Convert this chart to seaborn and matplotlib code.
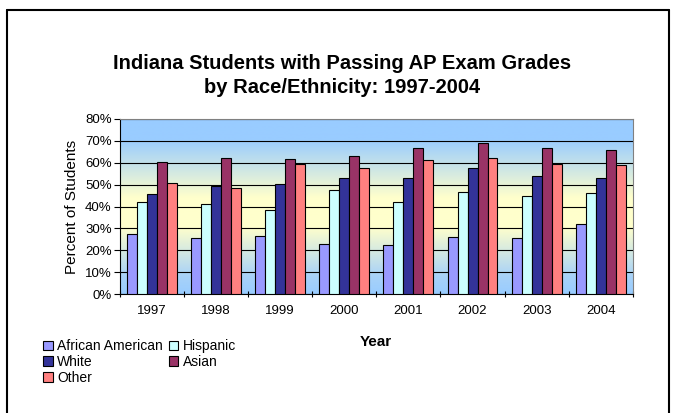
import numpy as np
import pandas as pd
import matplotlib
matplotlib.use("Agg")
import matplotlib.pyplot as plt
import seaborn as sns
from matplotlib.colors import LinearSegmentedColormap
from matplotlib.patches import Patch
from matplotlib.lines import Line2D

# data (percent)
years = ["1997", "1998", "1999", "2000", "2001", "2002", "2003", "2004"]
african_american = [27.6, 25.5, 26.5, 23.0, 22.6, 25.9, 25.5, 32.2]
hispanic = [42.1, 41.0, 38.3, 47.4, 42.1, 46.6, 45.0, 46.2]
white = [45.6, 49.5, 50.3, 53.0, 53.0, 57.6, 53.8, 53.0]
asian = [60.5, 62.3, 61.7, 63.0, 66.8, 68.8, 66.8, 65.9]
other = [50.9, 48.3, 59.5, 57.8, 61.1, 62.3, 59.6, 59.0]

groups = ["African American", "Hispanic", "White", "Asian", "Other"]
colors = ["#9999FF", "#CCFFFF", "#333399", "#993366", "#FF8080"]

df = pd.DataFrame({"Year": years, "African American": african_american,
                   "Hispanic": hispanic, "White": white, "Asian": asian,
                   "Other": other})
long_df = df.melt(id_vars="Year", var_name="Group", value_name="Percent")

sns.set_style("white")
plt.rcParams["font.family"] = ["Liberation Sans", "DejaVu Sans"]
plt.rcParams["text.color"] = "black"
plt.rcParams["axes.labelcolor"] = "black"
plt.rcParams["xtick.color"] = "black"
plt.rcParams["ytick.color"] = "black"

fig = plt.figure(figsize=(6.76, 4.13), dpi=100)
ax = fig.add_axes([0.1775, 0.288, 0.7585, 0.424])

# gradient background: blue - pale yellow - blue (bottom to top)
grad = LinearSegmentedColormap.from_list(
    "bg", [(0, "#99CCFF"), (0.1, "#A8D2F8"), (0.38, "#FFFFCC"), (0.55, "#FFFFCC"),
           (0.88, "#99CCFF"), (1, "#99CCFF")])
ax.imshow(np.linspace(0, 1, 256).reshape(-1, 1), cmap=grad, aspect="auto",
          origin="lower", extent=[0, 1, 0, 1], transform=ax.transAxes, zorder=0)

sns.barplot(data=long_df, x="Year", y="Percent", hue="Group",
            hue_order=groups, palette=colors, width=0.78, saturation=1,
            edgecolor="black", linewidth=0.8, ax=ax, zorder=3)
ax.get_legend().remove()

ax.set_ylim(0, 80)
ax.set_xlim(-0.5, len(years) - 0.5)
ax.set_yticks(np.arange(0, 81, 10))
ax.set_yticklabels([f"{v}%" for v in range(0, 81, 10)], fontsize=9.5)
ax.yaxis.grid(True, color="black", linewidth=0.8, zorder=1)
ax.set_axisbelow(True)
ax.tick_params(axis="x", length=0, labelsize=9.5, pad=8)
ax.tick_params(axis="y", left=True, length=4, width=0.8, color="black", pad=2)
ax.set_xticks(np.arange(-0.5, len(years), 1), minor=True)
ax.tick_params(axis="x", which="minor", bottom=True, length=4, width=0.8,
               color="black", direction="inout")

for side in ["top", "right"]:
    ax.spines[side].set_color("#808080")
    ax.spines[side].set_linewidth(0.8)
for side in ["left", "bottom"]:
    ax.spines[side].set_color("black")
    ax.spines[side].set_linewidth(0.8)

ax.set_xlabel("")
ax.set_ylabel("Percent of Students", fontsize=11, labelpad=4)

fig.text(0.5065, 0.818, "Indiana Students with Passing AP Exam Grades\nby Race/Ethnicity: 1997-2004",
         ha="center", va="center", fontsize=14.5, fontweight="bold", linespacing=1.35)
fig.text(0.556, 0.172, "Year", ha="center", va="center", fontsize=11,
         fontweight="bold")

# legend, filled row by row
handles = [Patch(facecolor=c, edgecolor="black", linewidth=0.8) for c in colors]
order = [0, 2, 4, 1, 3]
ax.legend([handles[i] for i in order], [groups[i] for i in order],
          ncol=2, loc="upper left", bbox_to_anchor=(0.054, 0.195),
          bbox_transform=fig.transFigure, frameon=False, fontsize=10,
          handlelength=0.7, handleheight=0.7, handletextpad=0.3,
          columnspacing=0.4, labelspacing=0.13, borderpad=0)

# outer frame of the chart
fig.add_artist(Line2D([0.0104, 0.0104], [0, 0.976], color="black", lw=1.5,
                      transform=fig.transFigure))
fig.add_artist(Line2D([0.0104, 0.99], [0.976, 0.976], color="black", lw=1.5,
                      transform=fig.transFigure))
fig.add_artist(Line2D([0.99, 0.99], [0, 0.976], color="black", lw=1.5,
                      transform=fig.transFigure))

fig.savefig("out.png", dpi=100)
